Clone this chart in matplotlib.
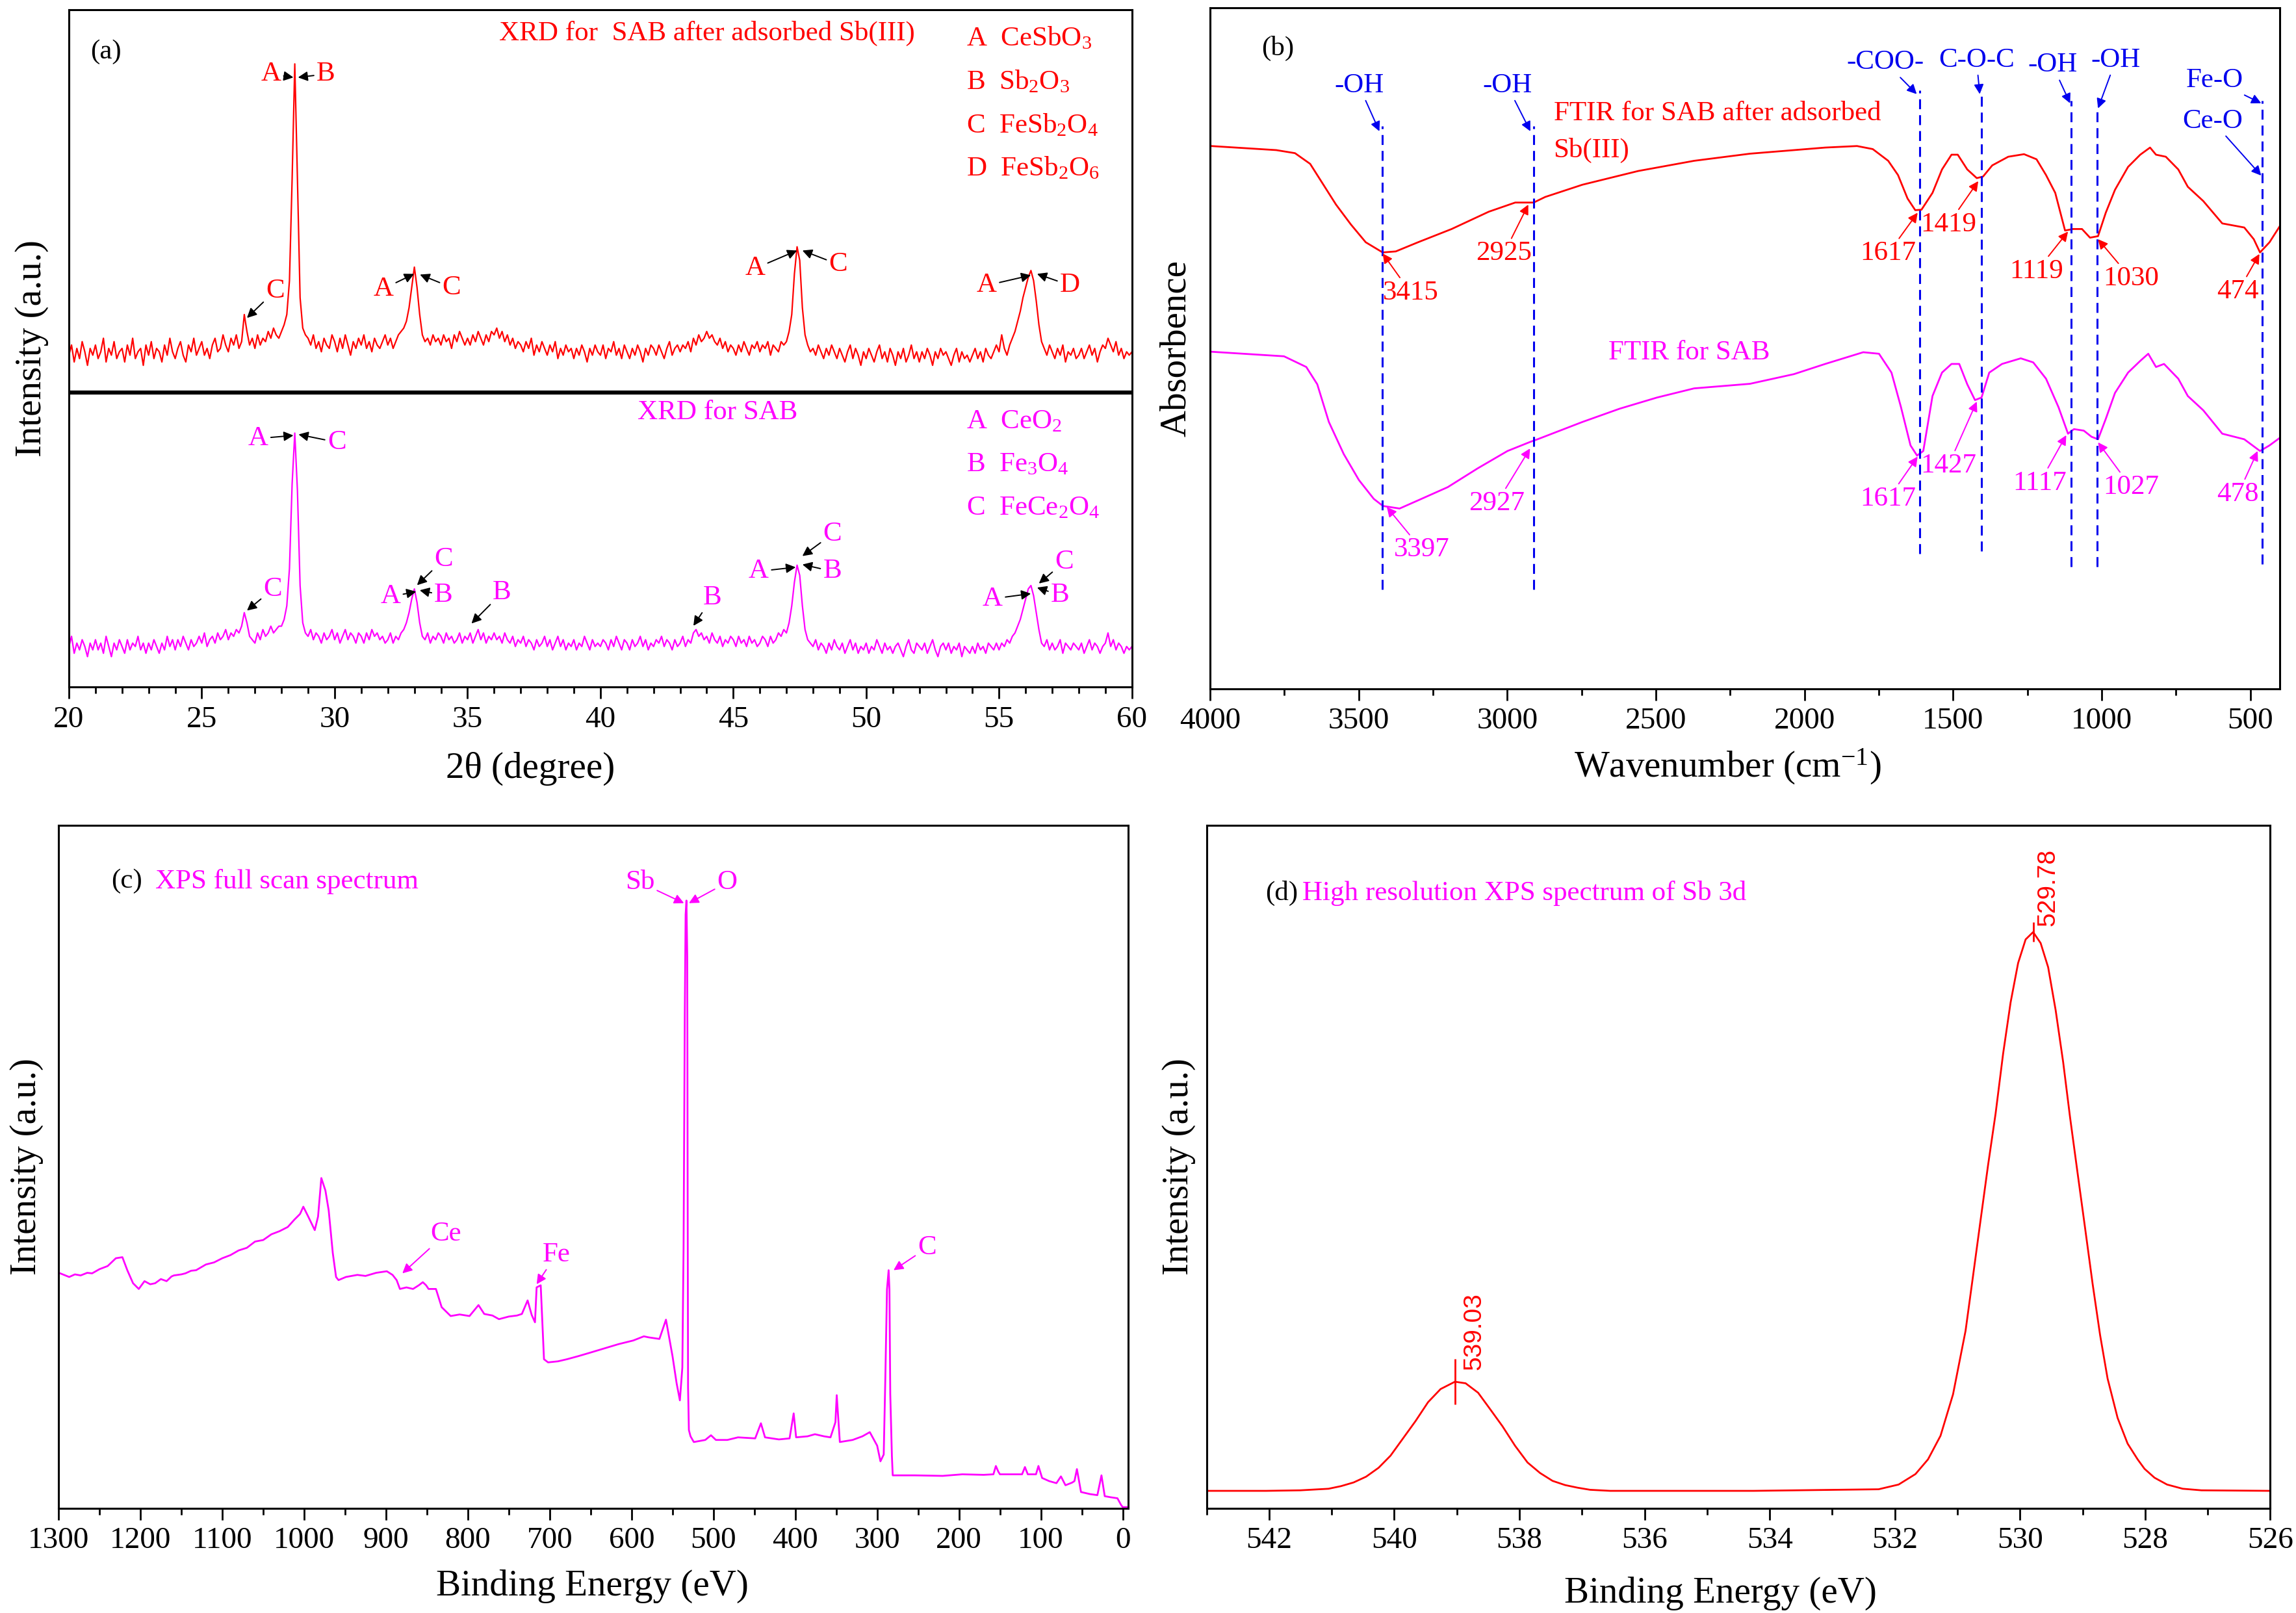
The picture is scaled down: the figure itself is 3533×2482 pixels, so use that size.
import numpy as np
import matplotlib
matplotlib.use("Agg")
import matplotlib.pyplot as plt
from matplotlib.ticker import MultipleLocator

plt.rcParams['font.family'] = ['Liberation Serif', 'DejaVu Serif']
plt.rcParams['mathtext.fontset'] = 'custom'
plt.rcParams['mathtext.rm'] = 'Liberation Serif'

RED = '#ff0000'
MAG = '#ff00ff'
BLUE = '#0000ee'

# ---------------- (a) XRD, 20-60 deg in 0.1 deg steps ----------------
xrd_two_theta = np.round(np.arange(200, 601) * 0.1, 1)
xrd_after = [
    98, 101, 96, 100, 97, 102, 99, 95, 100, 98,
    101, 97, 99, 103, 96, 100, 98, 102, 97, 99,
    100, 96, 101, 98, 103, 97, 99, 100, 95, 101,
    98, 102, 97, 100, 99, 96, 101, 98, 103, 99,
    97, 100, 102, 98, 96, 101, 99, 103, 98, 100,
    102, 98, 100, 97, 101, 103, 99, 100, 104, 101,
    99, 103, 101, 104, 100, 102, 110, 105, 101, 103,
    100, 104, 101, 103, 102, 105, 103, 106, 104, 103,
    105, 107, 110, 120, 150, 184, 150, 115, 106, 104,
    103, 101, 104, 100, 102, 99, 103, 101, 100, 104,
    102, 99, 103, 100, 104, 101, 98, 102, 100, 103,
    101, 104, 100, 102, 99, 103, 101, 100, 102, 104,
    101, 103, 100, 102, 104, 105, 106, 108, 112, 118,
    124, 118, 110, 104, 102, 103, 101, 104, 102, 103,
    101, 104, 102, 103, 100, 104, 102, 105, 103, 101,
    103, 101, 104, 102, 105, 103, 101, 104, 102, 105,
    104, 106, 103, 105, 102, 104, 101, 103, 100, 102,
    101, 99, 102, 100, 103, 98, 101, 99, 102, 100,
    98, 101, 99, 102, 97, 100, 98, 101, 99, 100,
    97, 100, 98, 101, 99, 96, 100, 98, 101, 99,
    98, 101, 97, 100, 99, 102, 98, 100, 97, 101,
    99, 97, 100, 98, 101, 99, 96, 100, 98, 101,
    100, 98, 101, 99, 97, 100, 102, 98, 100, 101,
    99, 101, 100, 102, 99, 103, 101, 104, 102, 103,
    105, 103, 104, 102, 101, 103, 100, 102, 99, 101,
    100, 98, 101, 99, 102, 100, 98, 101, 100, 102,
    99, 101, 100, 102, 98, 101, 100, 99, 102, 101,
    102, 105, 110, 122, 130, 126, 112, 104, 101, 99,
    100, 98, 101, 99, 97, 100, 98, 101, 99, 97,
    100, 98, 96, 99, 101, 97, 100, 98, 95, 99,
    97, 100, 98, 96, 99, 101, 97, 99, 96, 100,
    98, 95, 99, 97, 100, 96, 98, 101, 97, 99,
    96, 99, 97, 100, 98, 95, 99, 97, 100, 98,
    99, 97, 95, 98, 100, 96, 99, 97, 98, 96,
    98, 100, 97, 99, 96, 100, 98, 97, 99, 101,
    99, 104, 100, 98, 101, 103, 105, 108, 111, 115,
    118, 121, 123, 120, 114, 107, 102, 100, 98, 101,
    99, 97, 100, 98, 101, 96, 99, 98, 100, 97,
    98, 100, 97, 99, 101, 98, 100, 96, 99, 101,
    100, 103, 101, 99, 102, 98, 100, 97, 99, 98,
    99,
]
xrd_sab = [
    12, 15, 10, 13, 11, 14, 12, 9, 13, 11,
    14, 11, 13, 10, 15, 12, 9, 13, 11, 14,
    12, 10, 14, 11, 13, 12, 15, 11, 13, 10,
    13, 11, 14, 12, 10, 13, 11, 15, 12, 14,
    11, 14, 12, 15, 13, 11, 14, 12, 13, 15,
    13, 16, 12, 14, 15, 13, 16, 14, 15, 17,
    14, 16, 15, 17, 16, 18, 22, 19, 15, 14,
    13, 16, 14, 17, 15, 16, 18, 16, 17, 18,
    18, 20, 24, 35, 60, 75, 58, 30, 19, 16,
    15, 17, 14, 16, 15, 13, 16, 14, 15, 17,
    14, 16, 13, 15, 17, 14, 16, 15, 13, 16,
    15, 13, 16, 14, 17, 15, 16, 14, 15, 13,
    14, 16, 13, 15, 14, 16, 17, 19, 22, 26,
    29, 25, 19, 15, 14, 16, 13, 15, 14, 16,
    15, 13, 16, 14, 15, 13, 14, 16, 13, 15,
    14, 16, 13, 15, 17, 14, 16, 13, 15, 14,
    16, 14, 15, 13, 16, 14, 13, 15, 12, 14,
    13, 15, 12, 14, 13, 11, 14, 12, 13, 15,
    12, 14, 11, 13, 15, 12, 14, 11, 13, 12,
    14, 11, 13, 12, 15, 13, 11, 14, 12, 13,
    12, 14, 13, 11, 14, 12, 15, 13, 11, 14,
    13, 11, 14, 12, 13, 15, 12, 14, 11, 13,
    12, 14, 13, 15, 12, 14, 13, 11, 14, 12,
    13, 15, 12, 14, 13, 16, 17, 15, 16, 14,
    15, 13, 16, 14, 13, 15, 12, 14, 13, 15,
    14, 12, 15, 13, 14, 12, 15, 13, 14, 12,
    13, 15, 14, 12, 15, 13, 14, 16, 15, 17,
    16, 19, 24, 31, 36, 33, 24, 17, 14, 13,
    12, 14, 11, 13, 12, 10, 13, 11, 14, 12,
    11, 13, 10, 12, 14, 11, 13, 10, 12, 11,
    13, 10, 12, 11, 14, 12, 10, 13, 11, 12,
    10, 12, 13, 11, 9, 12, 14, 11, 10, 13,
    12, 11, 13, 10, 12, 14, 11, 9, 12, 13,
    11, 13, 10, 12, 11, 13, 9, 12, 11, 10,
    12, 10, 13, 11, 12, 10, 13, 12, 11, 13,
    11, 13, 12, 14, 13, 15, 16, 18, 20, 23,
    26, 29, 30, 27, 22, 17, 13, 12, 14, 11,
    13, 11, 12, 14, 10, 13, 12, 11, 13, 12,
    11, 13, 10, 12, 14, 11, 13, 12, 10, 12,
    13, 16, 12, 14, 11, 13, 12, 10, 12, 11,
    12,
]
# peak labels: (text, text x, text y, arrow tip x, arrow tip y)
xrd_after_marks = [
    ('A', 27.6, 181, 28.45, 180), ('B', 29.67, 181, 28.62, 180),
    ('C', 27.76, 117, 26.7, 109),
    ('A', 31.83, 117.6, 32.99, 122), ('C', 34.4, 118, 33.21, 121.8),
    ('A', 45.82, 123.6, 47.4, 128.9), ('C', 48.95, 124.8, 47.6, 128.9),
    ('A', 54.54, 118.6, 56.2, 121.6), ('D', 57.67, 118.6, 56.43, 122),
]
xrd_sab_marks = [
    ('A', 27.12, 73.4, 28.45, 74.3), ('C', 30.08, 72.3, 28.64, 74.6),
    ('C', 27.67, 28.9, 26.7, 22.6),
    ('A', 32.1, 26.7, 33.07, 28.2), ('B', 34.1, 27.1, 33.2, 28.6),
    ('C', 34.1, 37.7, 33.1, 30.1),
    ('B', 36.3, 27.9, 35.15, 18.8), ('B', 44.2, 26.4, 43.5, 18.1),
    ('C', 48.73, 45.2, 47.6, 38.7),
    ('A', 45.96, 34.2, 47.35, 35.4), ('B', 48.73, 34.2, 47.6, 36.2),
    ('C', 57.45, 36.9, 56.5, 30.6),
    ('A', 54.76, 26.1, 56.2, 27.6), ('B', 57.3, 27.1, 56.43, 29.4),
]
xrd_after_legend = ['A  CeSbO$\\mathregular{_3}$', 'B  Sb$\\mathregular{_2}$O$\\mathregular{_3}$',
                    'C  FeSb$\\mathregular{_2}$O$\\mathregular{_4}$', 'D  FeSb$\\mathregular{_2}$O$\\mathregular{_6}$']
xrd_after_legend_y = [191.4, 178.6, 165.8, 153.0]
xrd_sab_legend = ['A  CeO$\\mathregular{_2}$', 'B  Fe$\\mathregular{_3}$O$\\mathregular{_4}$',
                  'C  FeCe$\\mathregular{_2}$O$\\mathregular{_4}$']
xrd_sab_legend_y = [78.4, 65.6, 52.8]

# ---------------- (b) FTIR ----------------
ftir_after_wn = [4000, 3996, 3777, 3714, 3663, 3626, 3576, 3526, 3476, 3419,
                 3375, 3300, 3187, 3062, 2973, 2929, 2911, 2872, 2747, 2559,
                 2371, 2183, 2035, 1930, 1823, 1770, 1718, 1685, 1653, 1627,
                 1606, 1569, 1537, 1505, 1484, 1452, 1420, 1399, 1368, 1314,
                 1261, 1219, 1187, 1156, 1123, 1097, 1066, 1039, 1012, 986,
                 955, 911, 870, 837, 817, 784, 742, 710, 658, 594,
                 520, 488, 467, 435, 400]
ftir_after_abs = [1066, 1066, 1058, 1052, 1031, 997, 951, 912, 877, 857,
                  859, 877, 903, 937, 955, 955, 955, 966, 990, 1017,
                  1037, 1051, 1058, 1063, 1066, 1060, 1037, 1009, 963, 940,
                  941, 974, 1020, 1049, 1049, 1020, 1003, 1006, 1028, 1045,
                  1050, 1040, 1009, 974, 900, 903, 903, 886, 889, 935,
                  980, 1025, 1049, 1063, 1049, 1045, 1020, 986, 958, 914,
                  906, 883, 857, 877, 909]
ftir_sab_wn = [4000, 3996, 3751, 3676, 3639, 3600, 3550, 3499, 3449, 3418,
               3362, 3300, 3200, 3099, 2999, 2922, 2898, 2747, 2622, 2496,
               2371, 2183, 2035, 1930, 1802, 1749, 1707, 1675, 1643, 1621,
               1600, 1569, 1537, 1505, 1479, 1452, 1426, 1404, 1378, 1335,
               1272, 1230, 1187, 1145, 1113, 1093, 1060, 1034, 1012, 986,
               955, 911, 870, 843, 817, 790, 742, 710, 658, 594,
               520, 467, 435, 400]
ftir_sab_abs = [662, 662, 653, 632, 598, 524, 461, 410, 373, 359,
                354, 370, 396, 433, 467, 485, 490, 524, 550, 572,
                590, 599, 618, 638, 661, 658, 621, 553, 478, 458,
                467, 575, 621, 638, 638, 598, 567, 572, 621, 638,
                649, 641, 609, 553, 501, 510, 507, 495, 490, 530,
                581, 621, 644, 658, 632, 638, 609, 575, 547, 501,
                490, 467, 478, 493]
ftir_lines_wn = [3421, 2911, 1613, 1404, 1102, 1016, 459]
ftir_lines_lo = [195, 195, 265, 270, 240, 240, 245]
ftir_lines_hi = [1105, 1105, 1175, 1175, 1155, 1145, 1155]
ftir_groups = [
    ('-OH', 3499, 1185, 3430, 1095), ('-OH', 3000, 1185, 2922, 1095),
    ('-COO-', 1727, 1230, 1622, 1168), ('C-O-C', 1421, 1235, 1410, 1168),
    ('-OH', 1165, 1225, 1106, 1150), ('-OH', 952, 1235, 1012, 1140),
    ('Fe-O', 620, 1195, 463, 1150), ('Ce-O', 627, 1115, 463, 1008),
]
ftir_after_marks = [
    ('3415', 3325, 778, 3419, 855), ('2925', 3011, 855, 2929, 951),
    ('1617', 1718, 855, 1619, 935), ('1419', 1516, 912, 1415, 997),
    ('1119', 1219, 820, 1113, 898), ('1030', 901, 806, 1012, 883),
    ('474', 541, 780, 469, 854),
]
ftir_sab_marks = [
    ('3397', 3287, 273, 3405, 357), ('2927', 3036, 364, 2923, 472),
    ('1617', 1718, 373, 1619, 456), ('1427', 1516, 438, 1420, 564),
    ('1117', 1209, 404, 1119, 498), ('1027', 901, 396, 1012, 484),
    ('478', 541, 382, 475, 467),
]

# ---------------- (c) XPS survey ----------------
xps_be = [1300, 1298, 1287, 1280, 1273, 1265, 1259, 1250, 1240, 1230,
          1222, 1216, 1209, 1202, 1195, 1188, 1182, 1175, 1168, 1162,
          1159, 1150, 1145, 1138, 1132, 1120, 1110, 1100, 1090, 1080,
          1070, 1060, 1050, 1040, 1030, 1020, 1012, 1005, 1001, 995,
          987, 983, 979, 974, 970, 965, 961, 958, 949, 935,
          925, 912, 899, 892, 887, 883, 875, 867, 860, 855,
          851, 848, 839, 832, 821, 810, 798, 787, 780, 770,
          762, 750, 740, 734, 727, 722, 718, 716, 711, 707,
          702, 690, 679, 665, 652, 635, 616, 598, 585, 579,
          566, 558, 550, 545, 541, 538, 536.5, 535, 534, 533,
          532, 531.5, 531, 530, 528, 524, 510, 503, 497, 483,
          470, 449, 442, 437, 420, 407, 402, 399, 385, 376,
          365, 357, 351, 349.4, 347, 345.6, 330, 318, 309, 300,
          296, 292, 290, 288, 286, 285, 284, 282, 281, 254,
          220, 196, 170, 158, 155, 152, 150, 123, 119.5, 116,
          106, 103, 98.5, 90, 81, 75.5, 70, 62, 59, 56,
          51, 40, 31, 26, 22, 15, 6.5, 2, 0, -7]
xps_int = [452, 451, 444, 449, 447, 452, 451, 459, 465, 480,
           482, 457, 432, 421, 436, 430, 432, 440, 436, 445,
           447, 449, 451, 456, 457, 468, 472, 480, 486, 495,
           500, 512, 515, 526, 532, 540, 554, 565, 579, 560,
           534, 560, 634, 610, 572, 490, 444, 438, 444, 448,
           446, 452, 455, 448, 438, 421, 424, 421, 428, 434,
           428, 421, 421, 386, 369, 372, 369, 390, 373, 370,
           363, 368, 370, 373, 399, 371, 357, 424, 428, 286,
           280, 282, 286, 292, 298, 306, 315, 322, 330, 328,
           325, 362, 292, 240, 207, 270, 500, 950, 1140, 1167,
           1060, 600, 232, 150, 138, 127, 131, 140, 131, 131,
           136, 134, 163, 136, 132, 134, 182, 136, 138, 142,
           138, 136, 165, 217, 160, 127, 131, 138, 146, 120,
           90, 103, 252, 420, 457, 420, 219, 100, 63, 63,
           62, 65, 64, 65, 81, 70, 65, 65, 79, 65,
           65, 81, 58, 52, 48, 61, 44, 49, 52, 75,
           31, 27, 25, 63, 23, 21, 19, 6, 2, 2]
xps_marks = [
    ('Sb', 590, 1202, 536, 1162), ('O', 483, 1202, 530, 1162),
    ('Ce', 827, 527, 880, 451), ('Fe', 692, 487, 716, 430), ('C', 239, 500, 280, 457),
]

# ---------------- (d) Sb 3d ----------------
sb_be = [543.0, 542.05, 541.5, 541.05, 540.85, 540.65, 540.45, 540.25, 540.06, 539.86,
         539.66, 539.46, 539.26, 539.03, 538.86, 538.66, 538.47, 538.27, 538.07, 537.87,
         537.67, 537.47, 537.27, 537.07, 536.87, 536.55, 534.26, 532.26, 531.94, 531.67,
         531.47, 531.27, 531.07, 530.87, 530.75, 530.63, 530.51, 530.39, 530.27, 530.15,
         530.03, 529.91, 529.79, 529.67, 529.55, 529.43, 529.31, 529.20, 529.08, 528.96,
         528.84, 528.72, 528.60, 528.44, 528.28, 528.12, 528.01, 527.85, 527.65, 527.4,
         527.1, 526.0]
sb_int = [33, 33, 34, 37, 42, 49, 60, 77, 100, 133,
          166, 202, 227, 241, 238, 220, 189, 156, 119, 87,
          67, 52, 44, 39, 35, 33, 33, 36, 45, 65,
          93, 138, 217, 338, 443, 549, 654, 752, 866, 964,
          1039, 1084, 1098, 1077, 1031, 949, 850, 745, 639, 534,
          428, 330, 247, 172, 123, 93, 75, 58, 45, 37,
          34, 33]
sb_peaks = [539.03, 529.78]
sb_peak_int = [241, 1098]


def frame(ax, lw=2.2):
    for s in ax.spines.values():
        s.set_linewidth(lw)
    ax.tick_params(axis='x', which='both', direction='out', top=False, width=2, labelsize=34, pad=8)
    ax.tick_params(axis='x', which='major', length=13)
    ax.tick_params(axis='x', which='minor', length=7)
    ax.tick_params(axis='y', left=False, labelleft=False, right=False)


def arrow_label(ax, txt, tx, ty, px, py, color, acolor=None, size=31):
    ax.annotate(txt, xy=(px, py), xytext=(tx, ty), ha='center', va='center',
                color=color, fontsize=size,
                arrowprops=dict(arrowstyle='-|>', color=acolor or color, lw=1.4,
                                mutation_scale=22, shrinkA=1, shrinkB=0))


fig = plt.figure(figsize=(35.33, 24.82), dpi=100)

# (a)
ax = fig.add_axes([0.030, 0.574, 0.463, 0.420])
ax.plot(xrd_two_theta, xrd_after, color=RED, lw=1.6)
ax.plot(xrd_two_theta, xrd_sab, color=MAG, lw=1.6)
ax.axhline(87, color='k', lw=4.5)
ax.set_xlim(20, 60)
ax.set_ylim(0, 200)
ax.xaxis.set_major_locator(MultipleLocator(5))
ax.xaxis.set_minor_locator(MultipleLocator(1))
frame(ax)
ax.set_xlabel('2θ (degree)', fontsize=41)
ax.xaxis.set_label_coords(0.434, -0.095)
ax.set_ylabel('Intensity (a.u.)', fontsize=41)
ax.yaxis.set_label_coords(-0.019, 0.5)
ax.text(21.39, 187.6, '(a)', fontsize=31, ha='center', va='center')
ax.text(44.0, 193, 'XRD for  SAB after adsorbed Sb(III)', color=RED, fontsize=31, ha='center', va='center')
ax.text(44.4, 81, 'XRD for SAB', color=MAG, fontsize=31, ha='center', va='center')
for lab, yy in zip(xrd_after_legend, xrd_after_legend_y):
    ax.text(53.77, yy, lab, color=RED, fontsize=31, ha='left', va='center')
for lab, yy in zip(xrd_sab_legend, xrd_sab_legend_y):
    ax.text(53.77, yy, lab, color=MAG, fontsize=31, ha='left', va='center')
for t, tx, ty, px, py in xrd_after_marks:
    arrow_label(ax, t, tx, ty, px, py, RED, 'k')
for t, tx, ty, px, py in xrd_sab_marks:
    arrow_label(ax, t, tx, ty, px, py, MAG, 'k')

# (b)
ax = fig.add_axes([0.527, 0.573, 0.466, 0.422])
ax.plot(ftir_after_wn, ftir_after_abs, color=RED, lw=2)
ax.plot(ftir_sab_wn, ftir_sab_abs, color=MAG, lw=2)
for wn, lo, hi in zip(ftir_lines_wn, ftir_lines_lo, ftir_lines_hi):
    ax.plot([wn, wn], [lo, hi], color=BLUE, lw=2.2, ls=(0, (5, 3)))
ax.set_xlim(4000, 400)
ax.set_ylim(0, 1337)
ax.xaxis.set_major_locator(MultipleLocator(500))
ax.xaxis.set_minor_locator(MultipleLocator(250))
frame(ax)
ax.set_xlabel('Wavenumber (cm$\\mathregular{^{-1}}$)', fontsize=41)
ax.xaxis.set_label_coords(0.484, -0.086)
ax.set_ylabel('Absorbence', fontsize=41)
ax.yaxis.set_label_coords(-0.016, 0.5)
ax.text(3773, 1258, '(b)', fontsize=31, ha='center', va='center')
ax.text(2844, 1130, 'FTIR for SAB after adsorbed', color=RED, fontsize=31, ha='left', va='center')
ax.text(2844, 1057, 'Sb(III)', color=RED, fontsize=31, ha='left', va='center')
ax.text(2387, 660, 'FTIR for SAB', color=MAG, fontsize=31, ha='center', va='center')
for t, tx, ty, px, py in ftir_groups:
    arrow_label(ax, t, tx, ty, px, py, BLUE)
for t, tx, ty, px, py in ftir_after_marks:
    arrow_label(ax, t, tx, ty, px, py, RED)
for t, tx, ty, px, py in ftir_sab_marks:
    arrow_label(ax, t, tx, ty, px, py, MAG)

# (c)
ax = fig.add_axes([0.0255, 0.065, 0.466, 0.4235])
ax.plot(xps_be, xps_int, color=MAG, lw=2)
ax.set_xlim(1300, -7)
ax.set_ylim(0, 1312)
ax.xaxis.set_major_locator(MultipleLocator(100))
ax.xaxis.set_minor_locator(MultipleLocator(50))
frame(ax)
ax.set_xlabel('Binding Energy (eV)', fontsize=41)
ax.xaxis.set_label_coords(0.499, -0.090)
ax.set_ylabel('Intensity (a.u.)', fontsize=41)
ax.yaxis.set_label_coords(-0.014, 0.5)
ax.text(1217, 1204, '(c)', fontsize=31, ha='center', va='center')
ax.text(1182, 1204, 'XPS full scan spectrum', color=MAG, fontsize=31, ha='left', va='center')
for t, tx, ty, px, py in xps_marks:
    arrow_label(ax, t, tx, ty, px, py, MAG)

# (d)
ax = fig.add_axes([0.5255, 0.065, 0.4633, 0.4235])
ax.plot(sb_be, sb_int, color=RED, lw=2)
ax.plot(sb_peaks[:1], sb_peak_int[:1], marker='|', ms=50, mew=2, color=RED, ls='none')
ax.plot(sb_peaks[1:], sb_peak_int[1:], marker='|', ms=22, mew=2, color=RED, ls='none')
ax.set_xlim(543, 526)
ax.set_ylim(0, 1302)
ax.xaxis.set_major_locator(MultipleLocator(2))
ax.xaxis.set_minor_locator(MultipleLocator(1))
frame(ax)
ax.set_xlabel('Binding Energy (eV)', fontsize=41)
ax.xaxis.set_label_coords(0.483, -0.100)
ax.set_ylabel('Intensity (a.u.)', fontsize=41)
ax.yaxis.set_label_coords(-0.01, 0.5)
ax.text(541.8, 1172, '(d)', fontsize=31, ha='center', va='center')
ax.text(541.47, 1172, 'High resolution XPS spectrum of Sb 3d', color=MAG, fontsize=31, ha='left', va='center')
# x axis runs right-to-left, so subtracting moves the label to the right
ax.text(sb_peaks[0] - 0.12, sb_peak_int[0] + 22, '%.2f' % sb_peaks[0], rotation=90, color=RED,
        fontsize=28, family='Liberation Sans', ha='left', va='bottom')
ax.text(sb_peaks[1] - 0.04, sb_peak_int[1] + 12, '%.2f' % sb_peaks[1], rotation=90, color=RED,
        fontsize=28, family='Liberation Sans', ha='left', va='bottom')

fig.savefig('out.png', dpi=100)
